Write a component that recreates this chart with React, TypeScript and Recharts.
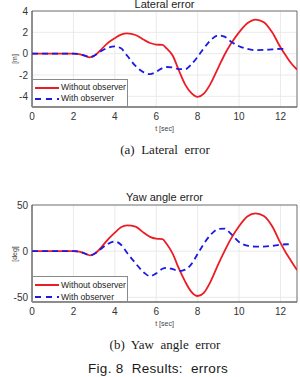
import React from 'react';
import {
  LineChart,
  Line,
  XAxis,
  YAxis,
  CartesianGrid,
  ReferenceArea,
  Legend,
} from 'recharts';

// Sample times [sec]
const time = [
  0, 0.5, 1, 1.5, 2, 2.2, 2.5, 2.8, 3.0, 3.3, 3.6, 4.0, 4.3, 4.6, 5.0, 5.4, 5.7,
  6.0, 6.3, 6.5, 6.8, 7.1, 7.4, 7.7, 8.0, 8.3, 8.6, 9.0, 9.3, 9.6, 10.0, 10.4,
  10.8, 11.2, 11.6, 12.0, 12.3, 12.5, 12.8,
];

// Lateral error [m]
const lateralWithout = [
  0, 0, 0, 0, 0, -0.02, -0.15, -0.35, -0.2, 0.3, 0.9, 1.45, 1.78, 1.9, 1.75,
  1.3, 1.0, 0.85, 0.82, 0.5, -0.2, -1.6, -2.9, -3.7, -4.05, -3.75, -2.9, -1.3,
  -0.1, 0.9, 2.0, 2.85, 3.2, 2.95, 2.0, 0.6, -0.3, -0.85, -1.5,
];
const lateralWith = [
  0, 0, 0, 0, 0, -0.02, -0.15, -0.32, -0.2, 0.2, 0.5, 0.68, 0.5, -0.2, -1.15,
  -1.75, -1.92, -1.7, -1.35, -1.25, -1.3, -1.45, -1.45, -1.0, -0.3, 0.5, 1.2,
  1.72, 1.6, 1.15, 0.7, 0.45, 0.33, 0.35, 0.4, 0.45, 0.45, null, null,
];

// Yaw angle error [deg]
const yawWithout = [
  0, 0, 0, 0, 0, -0.3, -2, -4.5, -3, 3, 11, 20, 26, 28, 26.5, 20, 15.5, 13.5,
  13, 8, -3, -19, -33, -44, -48.5, -45, -34, -14, 0, 13, 27, 37.5, 41, 38, 27, 9,
  -3, -10, -20.5,
];
const yawWith = [
  0, 0, 0, 0, 0, -0.3, -2, -4.5, -3, 2, 7, 10.5, 7, -2, -13, -23, -27, -24, -19,
  -18, -19.5, -21.5, -20, -14, -3, 8, 17, 24, 24.5, 19, 10, 6, 5, 5, 5.8, 7, 7.5,
  7, null,
];

const timeTicks = [0, 2, 4, 6, 8, 10, 12];
const timeDomain: [number, number] = [0, 12.8];
const lateralTicks = [-4, -2, 0, 2, 4];
const lateralDomain: [number, number] = [-5, 4];
const yawTicks = [-50, 0, 50];
const yawDomain: [number, number] = [-55, 50];

const seriesNames = ['Without observer', 'With observer'];

const RED = '#ec1c24';
const BLUE = '#1a1ae4';
const SANS = '"Liberation Sans", Arial, sans-serif';
const SERIF = '"Liberation Serif", "Times New Roman", serif';

function buildRows(a: (number | null)[], b: (number | null)[]) {
  return time.map((t, i) => ({ t, without: a[i], with: b[i] }));
}

function LegendBox({ gap, height }: { gap: number; height: number }) {
  const item = (name: string, color: string, dash?: string) => (
    <div style={{ display: 'flex', alignItems: 'center', height: gap, whiteSpace: 'nowrap' }}>
      <svg width={26} height={6} style={{ marginRight: 1, flex: 'none' }}>
        <line
          x1={1}
          y1={3}
          x2={25}
          y2={3}
          stroke={color}
          strokeWidth={2}
          strokeDasharray={dash}
        />
      </svg>
      <span>{name}</span>
    </div>
  );
  return (
    <div
      style={{
        width: 96,
        height,
        boxSizing: 'border-box',
        background: '#fff',
        border: '1px solid #8a8a8a',
        padding: '2px 0 0 1px',
        fontFamily: SANS,
        fontSize: 8.6,
        color: '#222',
        lineHeight: 1,
        textAlign: 'left',
      }}
    >
      {item(seriesNames[0], RED)}
      {item(seriesNames[1], BLUE, '6 5')}
    </div>
  );
}

type PanelProps = {
  top: number;
  height: number;
  plotTop: number;
  title: string;
  titleBaseline: number;
  unit: string;
  rows: { t: number; without: number | null; with: number | null }[];
  yDomain: [number, number];
  yTicks: number[];
  legendTop: number;
  legendGap: number;
};

function ErrorPanel(p: PanelProps) {
  const axisHeight = 28;
  const plotBottom = p.height - axisHeight;
  return (
    <div style={{ position: 'absolute', left: 0, top: p.top, width: 300, height: p.height }}>
      <LineChart
        width={300}
        height={p.height}
        data={p.rows}
        margin={{ top: p.plotTop, right: 3, bottom: 0, left: 0 }}
      >
        <CartesianGrid stroke="#e4e4e4" strokeWidth={0.8} />
        <XAxis
          dataKey="t"
          type="number"
          domain={timeDomain}
          ticks={timeTicks}
          interval={0}
          allowDataOverflow
          height={axisHeight}
          tickLine={false}
          tickSize={4}
          tickMargin={2}
          axisLine={{ stroke: '#555', strokeWidth: 0.8 }}
          tick={{ fontSize: 10, fill: '#333', fontFamily: SANS }}
          label={{
            value: 't [sec]',
            position: 'insideBottom',
            offset: 4,
            fontSize: 7,
            fill: '#444',
            fontFamily: SANS,
          }}
        />
        <YAxis
          type="number"
          domain={p.yDomain}
          ticks={p.yTicks}
          interval={0}
          allowDataOverflow
          width={32}
          tickLine={false}
          tickSize={2}
          tickMargin={2}
          axisLine={{ stroke: '#555', strokeWidth: 0.8 }}
          tick={{ fontSize: 10, fill: '#333', fontFamily: SANS }}
        />
        <ReferenceArea
          x1={timeDomain[0]}
          x2={timeDomain[1]}
          y1={p.yDomain[0]}
          y2={p.yDomain[1]}
          fill="none"
          stroke="#555"
          strokeWidth={0.8}
          ifOverflow="visible"
        />
        <Line
          dataKey="without"
          name={seriesNames[0]}
          type="monotone"
          stroke={RED}
          strokeWidth={1.8}
          dot={false}
          isAnimationActive={false}
        />
        <Line
          dataKey="with"
          name={seriesNames[1]}
          type="monotone"
          stroke={BLUE}
          strokeWidth={1.8}
          strokeDasharray="6 4"
          dot={false}
          isAnimationActive={false}
        />
        <Legend
          layout="horizontal"
          verticalAlign="middle"
          align="center"
          content={() => (
            <LegendBox gap={p.legendGap} height={plotBottom - p.legendTop} />
          )}
          wrapperStyle={{ position: 'absolute', left: 32, top: p.legendTop, width: 96 }}
        />
      </LineChart>
      <div
        style={{
          position: 'absolute',
          left: 32,
          width: 265,
          top: p.titleBaseline - 10,
          textAlign: 'center',
          fontFamily: SANS,
          fontSize: 11,
          lineHeight: '12px',
          color: '#222',
        }}
      >
        {p.title}
      </div>
      <div
        style={{
          position: 'absolute',
          left: 13.5,
          top: (p.plotTop + plotBottom) / 2,
          transform: 'translate(-50%, -50%) rotate(-90deg)',
          fontFamily: SANS,
          fontSize: 7,
          color: '#444',
          whiteSpace: 'nowrap',
        }}
      >
        {p.unit}
      </div>
    </div>
  );
}

function Caption({
  top,
  text,
  font,
  size,
  left,
  spacing = 0,
}: {
  top: number;
  text: string;
  font: string;
  size: number;
  left: number;
  spacing?: number;
}) {
  return (
    <div
      style={{
        position: 'absolute',
        left,
        top,
        transform: 'translate(-50%, -50%)',
        fontFamily: font,
        fontSize: size,
        letterSpacing: spacing,
        color: '#1a1a1a',
        whiteSpace: 'pre',
      }}
    >
      {text}
    </div>
  );
}

export default function App() {
  return (
    <div
      style={{
        position: 'absolute',
        left: 0,
        top: 0,
        width: 300,
        height: 377,
        background: '#fff',
        overflow: 'hidden',
      }}
    >
      <ErrorPanel
        top={0}
        height={135}
        plotTop={11}
        title="Lateral error"
        titleBaseline={7.5}
        unit="[m]"
        rows={buildRows(lateralWithout, lateralWith)}
        yDomain={lateralDomain}
        yTicks={lateralTicks}
        legendTop={79}
        legendGap={11}
      />
      <Caption top={150} left={165} text="(a)  Lateral  error" font={SERIF} size={13} />
      <ErrorPanel
        top={190}
        height={140}
        plotTop={15}
        title="Yaw angle error"
        titleBaseline={11}
        unit="[deg]"
        rows={buildRows(yawWithout, yawWith)}
        yDomain={yawDomain}
        yTicks={yawTicks}
        legendTop={86}
        legendGap={12}
      />
      <Caption top={345} left={165} text="(b)  Yaw  angle  error" font={SERIF} size={13} />
      <Caption top={368} left={158} text="Fig. 8  Results:  errors" font={SANS} size={13.5} spacing={0.3} />
    </div>
  );
}
